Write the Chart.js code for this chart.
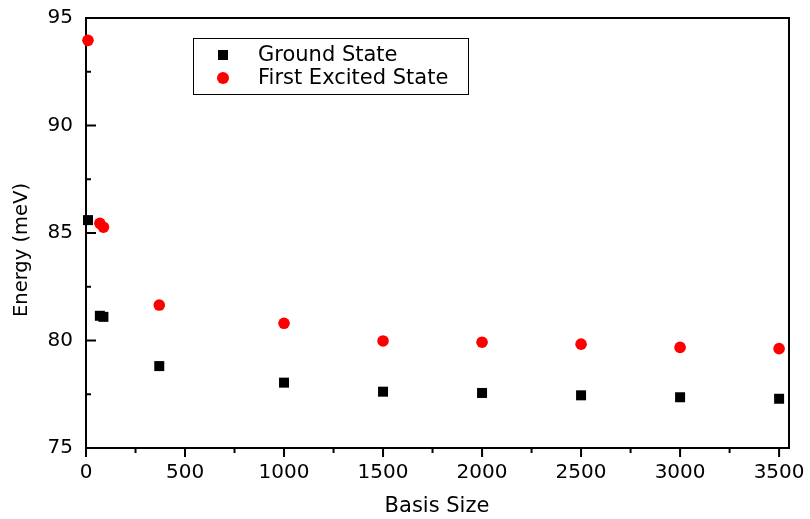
<!DOCTYPE html>
<html><head><meta charset="utf-8">
<script src="https://cdn.jsdelivr.net/npm/chart.js@4/dist/chart.umd.min.js"></script>
<style>html,body{margin:0;padding:0;background:#fff;} #wrap{width:810px;height:519px;position:relative;}</style>
</head><body><div id="wrap"><canvas id="c" width="810" height="519"></canvas></div>
<script>
// ---- data ----
const groundX = [10, 70, 88, 370, 1000, 1500, 2000, 2500, 3000, 3500];
const groundEnergy = [85.6, 81.15, 81.1, 78.81, 78.04, 77.62, 77.56, 77.45, 77.36, 77.29];
const excitedX = [10, 70, 88, 370, 1000, 1500, 2000, 2500, 3000, 3500];
const excitedEnergy = [93.96, 85.45, 85.27, 81.65, 80.80, 79.98, 79.92, 79.83, 79.68, 79.62];
const xTickValues = [0, 500, 1000, 1500, 2000, 2500, 3000, 3500];
const xMinorTickValues = [250, 750, 1250, 1750, 2250, 2750, 3250];
const yTickValues = [75, 80, 85, 90, 95];
const yMinorTickValues = [77.5, 82.5, 87.5, 92.5];
const seriesLabels = ['Ground State', 'First Excited State'];
const xAxisTitle = 'Basis Size';
const yAxisTitle = 'Energy (meV)';

const FONT = 'DejaVu Sans';

const framePlugin = {
  id: 'frame',
  beforeDatasetsDraw(chart) {
    const {ctx, chartArea: a, scales: {x, y}} = chart;
    ctx.save();
    ctx.strokeStyle = '#000';
    ctx.lineWidth = 2;
    ctx.strokeRect(a.left, a.top, a.right - a.left, a.bottom - a.top);
    ctx.beginPath();
    xTickValues.forEach(v => { const p = x.getPixelForValue(v); ctx.moveTo(p, a.bottom); ctx.lineTo(p, a.bottom + 9); });
    xMinorTickValues.forEach(v => { const p = x.getPixelForValue(v); ctx.moveTo(p, a.bottom); ctx.lineTo(p, a.bottom + 5); });
    yTickValues.forEach(v => { const p = y.getPixelForValue(v); ctx.moveTo(a.left, p); ctx.lineTo(a.left + 10, p); });
    yMinorTickValues.forEach(v => { const p = y.getPixelForValue(v); ctx.moveTo(a.left, p); ctx.lineTo(a.left + 5, p); });
    ctx.stroke();
    // axis titles
    ctx.fillStyle = '#000';
    ctx.textAlign = 'center';
    ctx.textBaseline = 'middle';
    ctx.font = '21px "' + FONT + '"';
    ctx.fillText(xAxisTitle, 437, 507);
    ctx.font = '19.5px "' + FONT + '"';
    ctx.translate(22, 250);
    ctx.rotate(-Math.PI / 2);
    ctx.fillText(yAxisTitle, 0, 0);
    ctx.restore();
  },
  afterDatasetsDraw(chart) {
    const {ctx} = chart;
    ctx.save();
    ctx.strokeStyle = '#000';
    ctx.lineWidth = 1;
    ctx.strokeRect(193.5, 38.5, 275, 56);
    const rows = [55, 78];
    chart.data.datasets.forEach((ds, i) => {
      const cy = rows[i];
      ctx.fillStyle = ds.backgroundColor;
      if (ds.pointStyle === 'rect') {
        ctx.fillRect(223 - 5, cy - 5, 10, 10);
      } else {
        ctx.beginPath(); ctx.arc(223, cy, 6, 0, Math.PI * 2); ctx.fill();
      }
      ctx.fillStyle = '#000';
      ctx.font = '21px "' + FONT + '"';
      ctx.textAlign = 'left';
      ctx.textBaseline = 'middle';
      ctx.fillText(ds.label, 258, cy + 1);
    });
    ctx.restore();
  }
};

function zeroPad(s) { s.paddingTop = 0; s.paddingBottom = 0; s.paddingLeft = 0; s.paddingRight = 0; }

new Chart(document.getElementById('c'), {
  type: 'scatter',
  data: {
    datasets: [
      {
        label: seriesLabels[0],
        data: groundX.map((v, i) => ({x: v, y: groundEnergy[i]})),
        pointStyle: 'rect', pointRadius: 7.07, pointHoverRadius: 7.07,
        backgroundColor: '#000000', borderColor: '#000000', borderWidth: 0,
        clip: false
      },
      {
        label: seriesLabels[1],
        data: excitedX.map((v, i) => ({x: v, y: excitedEnergy[i]})),
        pointStyle: 'circle', pointRadius: 5.8, pointHoverRadius: 5.8,
        backgroundColor: '#ff0000', borderColor: '#ff0000', borderWidth: 0,
        clip: false
      }
    ]
  },
  options: {
    responsive: false,
    animation: false,
    events: [],
    layout: {padding: {left: 0, top: 18, right: 21, bottom: 0}},
    plugins: {legend: {display: false}, tooltip: {enabled: false}},
    scales: {
      x: {
        type: 'linear', min: 0, max: 3550,
        grid: {display: false, drawTicks: false},
        border: {display: false},
        afterFit(s) { s.height = 71; zeroPad(s); },
        afterBuildTicks(s) { s.ticks = xTickValues.map(v => ({value: v})); },
        ticks: {color: '#000', font: {family: FONT, size: 20}, padding: 13, maxRotation: 0,
                callback: v => String(v)}
      },
      y: {
        type: 'linear', min: 75, max: 95,
        grid: {display: false, drawTicks: false},
        border: {display: false},
        afterFit(s) { s.width = 86; zeroPad(s); },
        afterBuildTicks(s) { s.ticks = yTickValues.map(v => ({value: v})); },
        ticks: {color: '#000', font: {family: FONT, size: 20}, padding: 13,
                callback: v => String(v)}
      }
    }
  },
  plugins: [framePlugin]
});
</script>
</body></html>
